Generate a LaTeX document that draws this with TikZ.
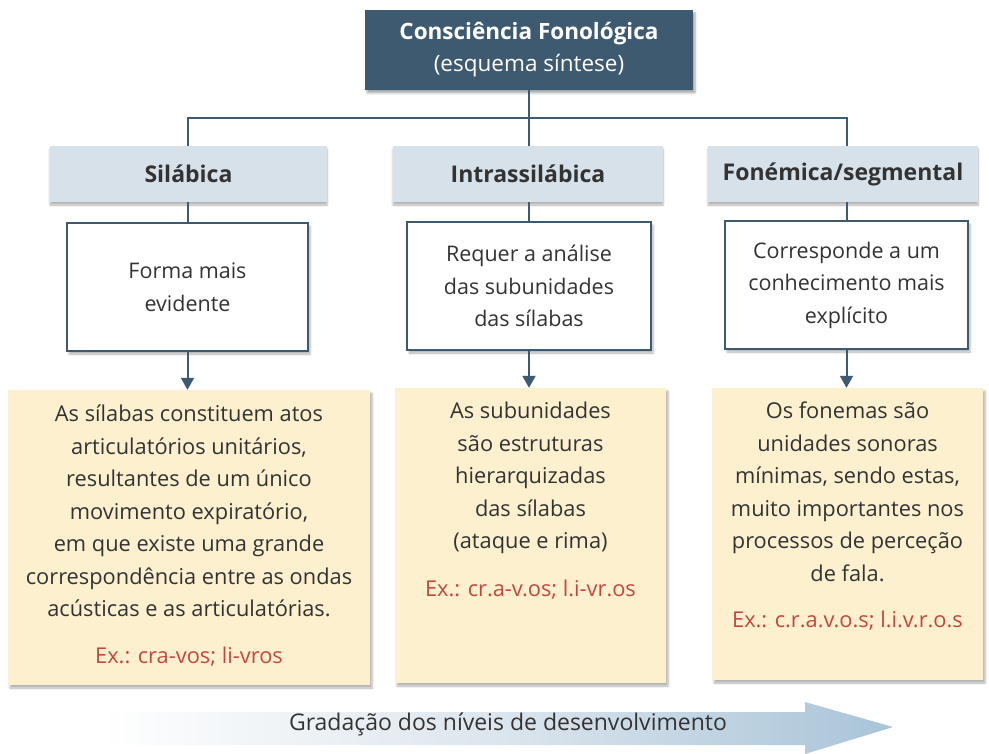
\documentclass[tikz,border=0pt]{standalone}
\usepackage{fontspec}
\setmainfont{Open Sans}
\usetikzlibrary{shadows.blur,arrows.meta}
\definecolor{slate}{HTML}{3E5A70}
\definecolor{hdrfill}{HTML}{D6E1EA}
\definecolor{yel}{HTML}{FDF0CF}
\definecolor{txt}{HTML}{333333}
\definecolor{exred}{HTML}{C4473F}
\definecolor{arrblue}{HTML}{A9C4D8}
\tikzset{
  titlebox/.style={fill=slate, text=white, align=center, inner sep=0pt,
    minimum width=328pt, minimum height=80pt, font=\fontsize{22.5}{32}\selectfont,
    blur shadow={shadow xshift=2pt, shadow yshift=-3pt, shadow blur steps=6, shadow opacity=35}},
  hdrbox/.style={fill=hdrfill, text=txt, inner sep=0pt, minimum height=56pt,
    font=\fontsize{23}{26}\selectfont\bfseries,
    blur shadow={shadow xshift=0pt, shadow yshift=-3pt, shadow blur steps=6, shadow opacity=30}},
  whitebox/.style={draw=slate, line width=1.5pt, fill=white, text=txt, align=center, inner sep=0pt,
    minimum height=128pt, font=\fontsize{21.5}{32.5}\selectfont,
    blur shadow={shadow xshift=2pt, shadow yshift=-3pt, shadow blur steps=6, shadow opacity=30}},
  yelbox/.style={fill=yel, inner sep=0pt, minimum height=295pt,
    blur shadow={shadow xshift=2pt, shadow yshift=-3pt, shadow blur steps=6, shadow opacity=30}},
  yeltext/.style={anchor=north, align=center, text=txt, inner sep=0pt, font=\fontsize{21.8}{32.5}\selectfont},
  conn/.style={draw=slate, line width=2pt},
  arr/.style={conn, -{Triangle[width=13pt,length=12pt]}},
}
\begin{document}
\begin{tikzpicture}[x=1pt,y=-1pt]
\useasboundingbox (0,0) rectangle (989,754);
% title
\node[titlebox] (title) at (529,50) {\textbf{Consciência Fonológica}\\(esquema síntese)};
% headers
\node[hdrbox, minimum width=277pt] (hS) at (188.5,174) {Silábica};
\node[hdrbox, minimum width=270pt] (hI) at (528,174) {Intrassilábica};
\node[hdrbox, minimum width=270pt] (hF) at (843,174) {Fonémica/segmental};
% white boxes
\node[whitebox, minimum width=241pt] (wS) at (187.5,287) {Forma mais\\evidente};
\node[whitebox, minimum width=244pt] (wI) at (529,286) {Requer a análise\\das subunidades\\das sílabas};
\node[whitebox, minimum width=243pt] (wF) at (846.5,285) {Corresponde a um\\conhecimento mais\\explícito};
% yellow boxes
\node[yelbox, minimum width=362pt] (yS) at (189,537.5) {};
\node[yelbox, minimum width=271pt] (yI) at (530.5,535.5) {};
\node[yelbox, minimum width=271pt, minimum height=292pt] (yF) at (847.5,534) {};
\node[yeltext] (tS) at (189,405) {As sílabas constituem atos\\articulatórios unitários,\\resultantes de um único\\movimento expiratório,\\em que existe uma grande\\correspondência entre as ondas\\acústicas e as articulatórias.\\[14pt]\textcolor{exred}{Ex.: cra-vos; li-vros}};
\node[yeltext] (tI) at (530.5,402) {As subunidades\\são estruturas\\hierarquizadas\\das sílabas\\(ataque e rima)\\[15pt]\textcolor{exred}{Ex.: cr.a-v.os; l.i-vr.os}};
\node[yeltext] (tF) at (847.5,402) {Os fonemas são\\unidades sonoras\\mínimas, sendo estas,\\muito importantes nos\\processos de perceção\\de fala.\\[14pt]\textcolor{exred}{Ex.: c.r.a.v.o.s; l.i.v.r.o.s}};
% connectors
\coordinate (bus) at (0,118);
\draw[conn] (title.south) -- (title.south |- bus);
\draw[conn] (wS.north |- hS.north) -- (wS.north |- bus) -- (wF.north |- bus) -- (wF.north |- hF.north);
\draw[conn] (wI.north |- bus) -- (wI.north |- hI.north);
\draw[conn] (wS.north |- hS.south) -- (wS.north);
\draw[conn] (wI.north |- hI.south) -- (wI.north);
\draw[conn] (wF.north |- hF.south) -- (wF.north);
\draw[arr] (wS.south) -- (wS.south |- yS.north);
\draw[arr] (wI.south) -- (wI.south |- yI.north);
\draw[arr] (wF.south) -- (wF.south |- yF.north);
% bottom arrow
\path[left color=white, right color=arrblue, middle color=hdrfill!85!white]
  (100,712) -- (805,712) -- (805,702) -- (893,727) -- (805,754) -- (805,745) -- (100,745) -- cycle;
\node[text=txt, font=\fontsize{23}{26}\selectfont] (grad) at (508,724) {Gradação dos níveis de desenvolvimento};
\end{tikzpicture}
\end{document}
